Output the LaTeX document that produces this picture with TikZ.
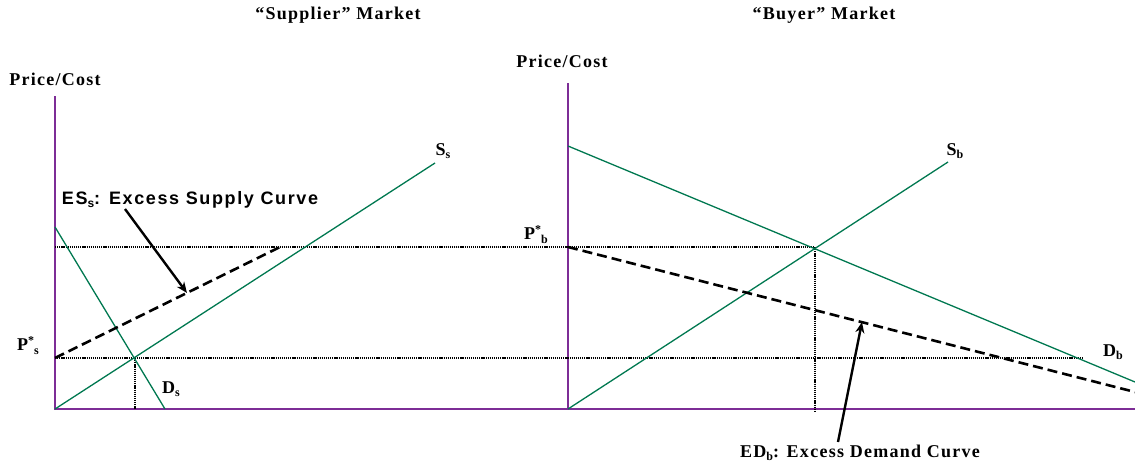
\documentclass[tikz,border=0pt]{standalone}
\usepackage{fontspec}
\setmainfont{Liberation Serif}[LetterSpace=7]
\newfontfamily\lblsans{Liberation Sans}[LetterSpace=9]
\usetikzlibrary{arrows.meta}
\definecolor{axiscol}{RGB}{125,45,150}
\definecolor{curvecol}{RGB}{0,120,80}
\tikzset{
  axisline/.style={draw=axiscol,line width=2pt},
  curve/.style={draw=curvecol,line width=1.3pt},
  guide/.style={draw=black,line width=2.4pt,dash pattern=on 1.2pt off 0.9pt},
  excess/.style={draw=black,line width=2.6pt,dash pattern=on 10pt off 5pt},
  pointer/.style={draw=black,line width=2.4pt,-{Stealth[length=11pt,width=9pt]}},
  lbl/.style={font=\fontsize{18}{20}\selectfont\bfseries,inner sep=0pt},
  slbl/.style={font=\lblsans\fontsize{18}{20}\selectfont\bfseries,inner sep=0pt},
}
\newcommand{\subl}[1]{\raisebox{-0.35ex}{\fontsize{12}{13}\selectfont #1}}
\newcommand{\pstar}[1]{P\raisebox{0.7ex}{\fontsize{12}{13}\selectfont *}\raisebox{-0.5ex}{\fontsize{12}{13}\selectfont #1}}
\begin{document}
\begin{tikzpicture}[x=1pt,y=-1pt]
\useasboundingbox (0,0) rectangle (1135,463);
% key points
\coordinate (Lo) at (55,409);
\coordinate (Ltop) at (55,96);
\coordinate (Lend) at (568,409);
\coordinate (Ro) at (568,409);
\coordinate (Rtop) at (568,83);
\coordinate (Rend) at (1135,409);
\coordinate (SsEnd) at (435,163);
\coordinate (DsStart) at (55,227);
\coordinate (DsEnd) at (165,409);
\coordinate (SbEnd) at (948,162);
\coordinate (DbStart) at (568,146);
\coordinate (DbEnd) at (1135,382);
\coordinate (Eq1) at (135,358);
\coordinate (Eq1b) at (135,409);
\coordinate (Eq2) at (815,247);
\coordinate (Eq2b) at (815,411);
\coordinate (PsL) at (55,358);
\coordinate (PbL) at (55,247);
\coordinate (PsR) at (1083,358);
\coordinate (EsEnd) at (280,247);
\coordinate (EdStart) at (568,247);
\coordinate (EdEnd) at (1135,392);
\coordinate (EsTail) at (125,209);
\coordinate (EsTip) at (187,293);
\coordinate (EdTail) at (838,442);
\coordinate (EdTip) at (862,322);
% axes
\draw[axisline] (Ltop) -- (Lo) -- (Lend);
\draw[axisline] (Rtop) -- (Ro) -- (Rend);
% guides
\draw[guide] (PbL) -- (Eq2);
\draw[guide] (PsL) -- (PsR);
\draw[guide] (Eq1) -- (Eq1b);
\draw[guide] (Eq2) -- (Eq2b);
% curves
\draw[curve] (Lo) -- (SsEnd);
\draw[curve] (DsStart) -- (DsEnd);
\draw[curve] (Ro) -- (SbEnd);
\draw[curve] (DbStart) -- (DbEnd);
% excess curves
\draw[excess] (PsL) -- (EsEnd);
\draw[excess] (EdStart) -- (EdEnd);
% pointers
\draw[pointer] (EsTail) -- (EsTip);
\draw[pointer] (EdTail) -- (EdTip);
% labels
\node[lbl] (t1) at (338,15) {“Supplier” Market};
\node[lbl] (t2) at (824,15) {“Buyer” Market};
\node[lbl] (pc1) at (55,79) {Price/Cost};
\node[lbl] (pc2) at (562,61) {Price/Cost};
\node[lbl] (ss) at (443,151) {S\subl{s}};
\node[lbl] (sb) at (955,151) {S\subl{b}};
\node[lbl] (ds) at (171,389) {D\subl{s}};
\node[lbl] (db) at (1113,352) {D\subl{b}};
\node[lbl] (ps) at (28,346) {\pstar{s}};
\node[lbl] (pb) at (536,235) {\pstar{b}};
\node[slbl] (es) at (190,200) {ES\subl{s}: Excess Supply Curve};
\node[lbl] (ed) at (860,453) {ED\subl{b}: Excess Demand Curve};
\end{tikzpicture}
\end{document}
